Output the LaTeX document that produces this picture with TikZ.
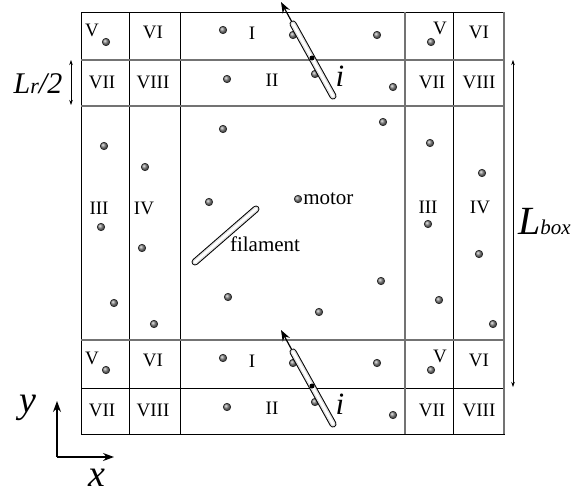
\documentclass[tikz,border=0pt]{standalone}
\usepackage{fontspec}
\setmainfont{Liberation Serif}
\usepackage{tikz}
\usetikzlibrary{arrows,arrows.meta,positioning,shadings}
\tikzstyle{cell} = [draw=black, line width=0.7pt]
\tikzstyle{band} = [draw=black!55, line width=1.2pt]
\tikzstyle{region} = [inner sep=0pt, font=\fontsize{19}{19}\selectfont]
\tikzstyle{motor} = [circle, draw=black!85, line width=0.6pt, inner sep=0pt, minimum size=7.5pt, ball color=black!50]
\tikzstyle{rodout} = [line width=7pt, line cap=round, black]
\tikzstyle{rodin} = [line width=5pt, line cap=round, black!12]
\tikzstyle{rodlight} = [line width=2.4pt, line cap=round, white]
\tikzstyle{cross} = [circle, fill=black, inner sep=0pt, minimum size=5pt]
\tikzstyle{dim} = [line width=0.6pt, <->, >={Stealth[length=5pt,width=3.5pt]}]
\tikzstyle{arrow} = [line width=1.2pt, ->, >={Stealth[length=11pt,width=8pt]}]

\begin{document}
\begin{tikzpicture}[x=1pt, y=-1pt]
    \useasboundingbox (0,0) rectangle (572,498);

    % cells of the box
    \draw[cell] (81,12) rectangle (504,434);
    \foreach \cx in {129,180,453} \draw[cell] (\cx,12) -- (\cx,434);
    \draw[cell] (81,388) -- (504,388);
    \foreach \cy in {60,106,340} \draw[band] (81,\cy) -- (504,\cy);
    \draw[band] (405,12) -- (405,434);
    \draw[band] (504,12) -- (504,434);

    % top band and its image at the bottom
    \foreach \off/\b in {0/t,328/b} {
      \node (V\b) [region] at (92,30+\off) {V};
      \node (VI\b) [region] at (153,32+\off) {VI};
      \node (VII\b) [region] at (102,82+\off) {VII};
      \node (VIII\b) [region] at (153,82+\off) {VIII};
      \node (I\b) [region] at (252,33+\off) {I};
      \node (II\b) [region] at (272,80+\off) {II};
      \node (Vr\b) [region] at (440,28+\off) {V};
      \node (VIr\b) [region] at (479,32+\off) {VI};
      \node (VIIr\b) [region] at (432,82+\off) {VII};
      \node (VIIIr\b) [region] at (479,82+\off) {VIII};
      \foreach \px/\py [count=\k] in {223/30,293/35,377/35,227/79,315/74,393/87,106/42,431/42}
        \node (d\b\k) [motor] at (\px,\py+\off) {};
      \coordinate (rtail\b) at (293,24+\off);
      \coordinate (rhead\b) at (333,96+\off);
      \coordinate (tip\b) at (281,2+\off);
      \draw[arrow] (rtail\b) -- (tip\b);
      \draw[rodout] (rtail\b) -- (rhead\b);
      \draw[rodin] (rtail\b) -- (rhead\b);
      \draw[rodlight] (rtail\b) -- (rhead\b);
      \node (x\b) [cross] at (312,58+\off) {};
      \node (i\b) [font=\fontsize{31}{31}\selectfont\itshape] at (340,76+\off) {i};
    }

    % middle columns
    \node (IIIl) [region] at (99,208) {III};
    \node (IVl) [region] at (144,208) {IV};
    \node (IIIr) [region] at (428,207) {III};
    \node (IVr) [region] at (480,207) {IV};
    \foreach \px/\py [count=\k] in {104/146,145/167,101/227,142/248,114/303,154/324,
        430/143,482/173,428/224,479/254,439/300,493/324,
        223/129,383/122,209/202,228/297,319/312,381/281}
      \node (c\k) [motor] at (\px,\py) {};

    % motor and filament
    \node (m) [motor] at (298,199) {};
    \node (motorlbl) [right=1pt of m, inner sep=0pt, font=\fontsize{21}{21}\selectfont] {motor};
    \coordinate (fa) at (195,262);
    \coordinate (fb) at (256,209);
    \draw[rodout] (fa) -- (fb);
    \draw[rodin] (fa) -- (fb);
    \draw[rodlight] (fa) -- (fb);
    \node (fil) [inner sep=0pt, font=\fontsize{21}{21}\selectfont] at (265,244) {filament};

    % lengths
    \coordinate (lrA) at (71,60);
    \coordinate (lrB) at (71,105);
    \draw[dim] (lrA) -- (lrB);
    \node (lr) [inner sep=0pt, font=\fontsize{30}{30}\selectfont\itshape] at (38,84) {L\fontsize{22}{22}\selectfont r\fontsize{30}{30}\selectfont/2};
    \coordinate (lbA) at (513,60);
    \coordinate (lbB) at (513,387);
    \draw[dim] (lbA) -- (lbB);
    \node (lbox) [anchor=base west, inner sep=0pt, font=\fontsize{40}{40}\selectfont\itshape] at (518,234) {L\fontsize{21}{21}\selectfont box};

    % axes
    \coordinate (o) at (57,457);
    \coordinate (ey) at (57,401);
    \coordinate (ex) at (114,457);
    \draw[arrow] (o) -- (ey);
    \draw[arrow] (o) -- (ex);
    \node (ylbl) [font=\fontsize{38}{38}\selectfont\itshape] at (28,408) {y};
    \node (xlbl) [font=\fontsize{38}{38}\selectfont\itshape] at (97,478) {x};

\end{tikzpicture}
\end{document}
